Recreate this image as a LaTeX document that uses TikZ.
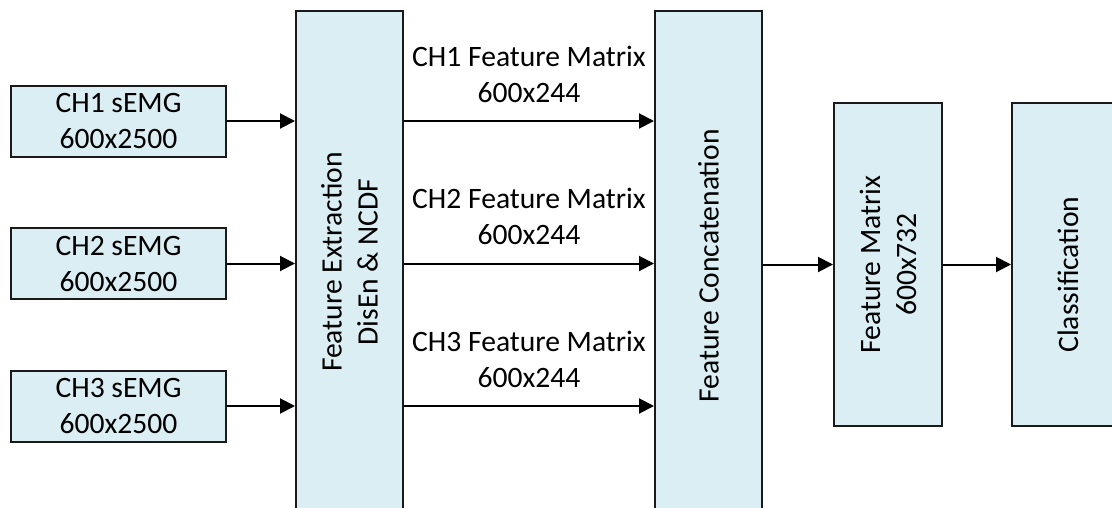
\documentclass[tikz,border=0pt]{standalone}
\usepackage{xcolor}
\usepackage{fontspec}
\setmainfont{Carlito}
\usepackage{tikz}
\usetikzlibrary{arrows.meta, positioning}
\definecolor{boxfill}{HTML}{DAEEF3}
\definecolor{boxline}{HTML}{1A1A1A}

\begin{document}
\begin{tikzpicture}[
    x=1pt, y=-1pt,
    font=\fontsize{29.6}{36}\selectfont,
    hbox/.style={draw=boxline, fill=boxfill, line width=2pt, align=center,
                 minimum width=215pt, minimum height=71pt, inner sep=0pt},
    vbox/.style={draw=boxline, fill=boxfill, line width=2pt, align=center,
                 rotate=90, inner sep=0pt, minimum width=#1},
    arr/.style={-{Triangle[length=15pt, width=15pt]}, line width=2pt, black},
    lbl/.style={above=14pt, align=center},
]
    \useasboundingbox (0,0) rectangle (1112,507);
    \clip (0,0) rectangle (1112,507);

    % Inputs
    \node[hbox] (ch1) at (118.5, 121)   {CH1 sEMG\\600x2500};
    \node[hbox] (ch2) at (118.5, 263.5) {CH2 sEMG\\600x2500};
    \node[hbox] (ch3) at (118.5, 406)   {CH3 sEMG\\600x2500};

    % Processing blocks
    \node[vbox=502pt, minimum height=107pt] (fex) at (349.5, 262) {Feature Extraction\\DisEn \& NCDF};
    \node[vbox=502pt, minimum height=107pt] (fcat) at (708.5, 262) {Feature Concatenation\hspace{8pt}};
    \node[vbox=323pt, minimum height=108pt] (fmat) at (888, 264.5) {Feature Matrix\\600x732};
    \node[vbox=323pt, minimum height=112pt] (cls) at (1068, 264.5) {Classification\hspace{20pt}};

    % Connections
    \draw[arr] (ch1) -- (ch1 -| fex.north);
    \draw[arr] (ch2) -- (ch2 -| fex.north);
    \draw[arr] (ch3) -- (ch3 -| fex.north);

    \draw[arr] (ch1 -| fex.south) -- node[lbl] (m1) {CH1 Feature Matrix\\600x244} (ch1 -| fcat.north);
    \draw[arr] (ch2 -| fex.south) -- node[lbl] (m2) {CH2 Feature Matrix\\600x244} (ch2 -| fcat.north);
    \draw[arr] (ch3 -| fex.south) -- node[lbl] (m3) {CH3 Feature Matrix\\600x244} (ch3 -| fcat.north);

    \draw[arr] (fmat -| fcat.south) -- (fmat.north);
    \draw[arr] (fmat.south) -- (cls.north);
\end{tikzpicture}
\end{document}
